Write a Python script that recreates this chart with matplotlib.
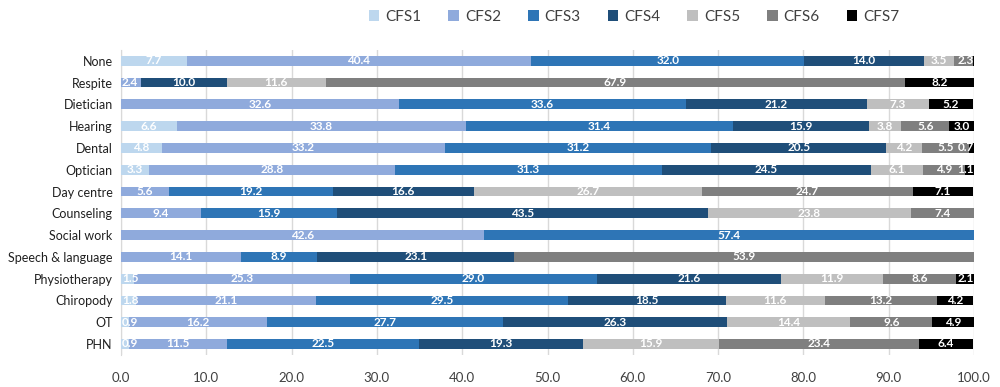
import matplotlib
matplotlib.use("Agg")
import matplotlib.pyplot as plt
import numpy as np

plt.rcParams['font.family'] = ['Lato', 'DejaVu Sans']

# services, top to bottom
services = ["None", "Respite", "Dietician", "Hearing", "Dental", "Optician", "Day centre",
            "Counseling", "Social work", "Speech & language", "Physiotherapy", "Chiropody",
            "OT", "PHN"]

cfs_names = ["CFS1", "CFS2", "CFS3", "CFS4", "CFS5", "CFS6", "CFS7"]
cfs_colors = ["#BDD7EE", "#8FAADC", "#2E75B6", "#1F4E79", "#BFBFBF", "#7F7F7F", "#000000"]

cfs1 = [7.7, 0.0, 0.0, 6.6, 4.8, 3.3, 0.0, 0.0, 0.0, 0.0, 1.5, 1.8, 0.9, 0.9]
cfs2 = [40.4, 2.4, 32.6, 33.8, 33.2, 28.8, 5.6, 9.4, 42.6, 14.1, 25.3, 21.1, 16.2, 11.5]
cfs3 = [32.0, 0.0, 33.6, 31.4, 31.2, 31.3, 19.2, 15.9, 57.4, 8.9, 29.0, 29.5, 27.7, 22.5]
cfs4 = [14.0, 10.0, 21.2, 15.9, 20.5, 24.5, 16.6, 43.5, 0.0, 23.1, 21.6, 18.5, 26.3, 19.3]
cfs5 = [3.5, 11.6, 7.3, 3.8, 4.2, 6.1, 26.7, 23.8, 0.0, 0.0, 11.9, 11.6, 14.4, 15.9]
cfs6 = [2.3, 67.9, 0.0, 5.6, 5.5, 4.9, 24.7, 7.4, 0.0, 53.9, 8.6, 13.2, 9.6, 23.4]
cfs7 = [0.1, 8.2, 5.2, 3.0, 0.7, 1.1, 7.1, 0.0, 0.0, 0.0, 2.1, 4.2, 4.9, 6.4]

series = [cfs1, cfs2, cfs3, cfs4, cfs5, cfs6, cfs7]

fig = plt.figure(figsize=(10, 3.87), dpi=100)
ax = fig.add_axes([0.121, 0.083, 0.853, 0.788])

y = np.arange(len(services))
left = np.zeros(len(services))
for name, vals, col in zip(cfs_names, series, cfs_colors):
    vals = np.array(vals)
    bars = ax.barh(y, vals, left=left, height=0.45, color=col, label=name, zorder=3)
    for b, v in zip(bars, vals):
        if v < 0.5:
            continue
        cx = b.get_x() + b.get_width() / 2
        ha = "center"
        # keep labels of tiny segments inside the plot area
        if b.get_x() == 0 and v < 3:
            cx, ha = 0.1, "left"
        elif b.get_x() + b.get_width() > 99.5 and v < 3:
            cx, ha = 100, "right"
        ax.text(cx, b.get_y() + b.get_height() / 2, "%.1f" % v, ha=ha, va="center",
                color="white", fontsize=8.5, fontweight="bold", zorder=4)
    left += vals

ax.set_xlim(0, 100)
ax.set_ylim(len(services) - 0.5, -0.5)
ax.set_xticks(np.arange(0, 101, 10))
ax.set_xticklabels(["%.1f" % t for t in np.arange(0, 101, 10)], fontsize=9.5, color="#404040")
ax.set_yticks(y)
ax.set_yticklabels(services, fontsize=9, color="#202020")
ax.tick_params(axis="y", length=0, pad=6)
ax.tick_params(axis="x", length=0, pad=12)
ax.grid(axis="x", color="#D9D9D9", linewidth=1, zorder=0)
for s in ["top", "right", "bottom"]:
    ax.spines[s].set_visible(False)
ax.spines["left"].set_color("#D9D9D9")

fig.legend(loc="upper center", bbox_to_anchor=(0.634, 1.01), ncol=7, frameon=False,
           fontsize=11, handlelength=0.7, handleheight=0.7, handletextpad=0.4,
           columnspacing=1.75, labelcolor="#404040")

fig.savefig("out.png", dpi=100)
